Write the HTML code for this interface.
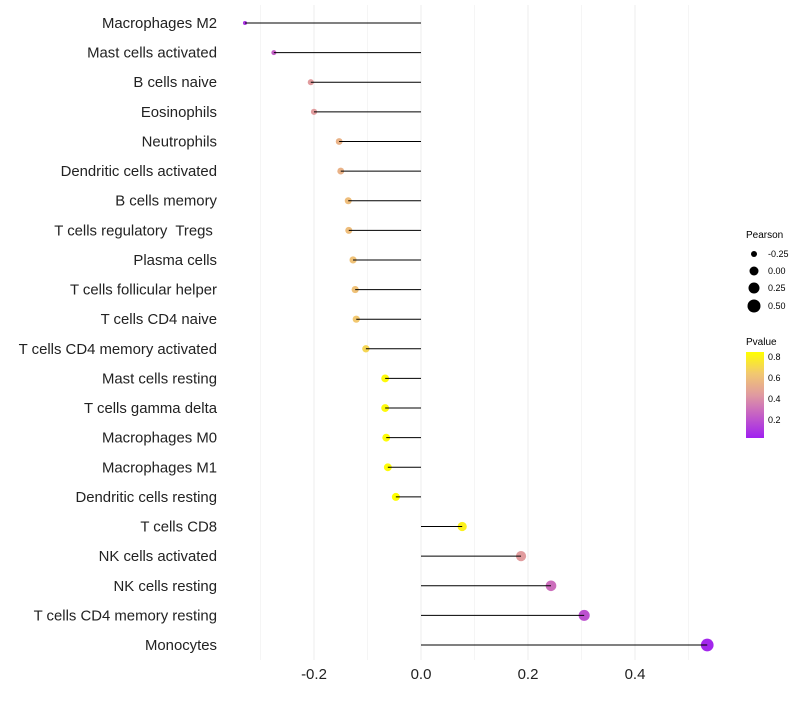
<!DOCTYPE html>
<html><head><meta charset="utf-8"><style>
body{margin:0;background:#fff;font-family:"Liberation Sans",sans-serif}
text{white-space:pre}
</style></head><body>
<svg id="chart" width="800" height="700" xmlns="http://www.w3.org/2000/svg" font-family="Liberation Sans, sans-serif">
<defs><linearGradient id="pg" x1="0" y1="1" x2="0" y2="0">
<stop offset="0" stop-color="#a020f0"/><stop offset="0.3" stop-color="#c968c0"/><stop offset="0.5" stop-color="#e09aa0"/><stop offset="0.75" stop-color="#f2c870"/><stop offset="1" stop-color="#ffff00"/></linearGradient></defs>
<g id="grid"></g><g id="dots"></g><g id="marks"></g><g id="labels"></g>
<g font-size="9">
<text x="746" y="238" font-size="10">Pearson</text>
<circle cx="754" cy="254" r="3"/><text x="768" y="257">-0.25</text>
<circle cx="754" cy="271" r="4.5"/><text x="768" y="274">0.00</text>
<circle cx="754" cy="288" r="5.5"/><text x="768" y="291">0.25</text>
<circle cx="754" cy="306" r="6.5"/><text x="768" y="309">0.50</text>
<text x="746" y="345" font-size="10">Pvalue</text>
<rect x="746" y="352" width="18" height="86" fill="url(#pg)"/>
<text x="768" y="360">0.8</text><text x="768" y="381">0.6</text><text x="768" y="402">0.4</text><text x="768" y="423">0.2</text>
</g>
</svg>
<script>
const categories=["Macrophages M2","Mast cells activated","B cells naive","Eosinophils","Neutrophils","Dendritic cells activated","B cells memory","T cells regulatory  Tregs ","Plasma cells","T cells follicular helper","T cells CD4 naive","T cells CD4 memory activated","Mast cells resting","T cells gamma delta","Macrophages M0","Macrophages M1","Dendritic cells resting","T cells CD8","NK cells activated","NK cells resting","T cells CD4 memory resting","Monocytes"];
const pearson=[-0.329,-0.275,-0.206,-0.200,-0.153,-0.150,-0.136,-0.135,-0.127,-0.123,-0.121,-0.103,-0.067,-0.067,-0.065,-0.062,-0.047,0.077,0.187,0.243,0.305,0.535];
const pvalue=[0.1,0.25,0.45,0.45,0.55,0.55,0.6,0.6,0.62,0.62,0.65,0.7,0.83,0.83,0.84,0.84,0.87,0.8,0.45,0.3,0.2,0.05];
const xticks=[-0.2,0,0.2,0.4];
const xminor=[-0.3,-0.1,0.1,0.3,0.5];
const NS="http://www.w3.org/2000/svg";
const x=v=>421+v*535;
const y=i=>23+i*(622/21);
function mk(t,a,p){const e=document.createElementNS(NS,t);for(const k in a)e.setAttribute(k,a[k]);p.appendChild(e);return e;}
const stops=[[0.03,[160,32,240]],[0.28,[201,104,192]],[0.44,[224,154,160]],[0.65,[242,200,112]],[0.85,[255,255,0]]];
function col(p){if(p<=stops[0][0])return "rgb("+stops[0][1]+")";for(let i=1;i<stops.length;i++){if(p<=stops[i][0]){const t=(p-stops[i-1][0])/(stops[i][0]-stops[i-1][0]);const c=stops[i-1][1].map((a,j)=>Math.round(a+(stops[i][1][j]-a)*t));return "rgb("+c+")";}}return "rgb(255,255,0)";}
const g=document.getElementById('grid'),m=document.getElementById('marks'),D=document.getElementById('dots'),L=document.getElementById('labels');
xminor.forEach(v=>{const l=mk('line',{x1:x(v),x2:x(v),y1:5,y2:660,stroke:'#f5f5f5','stroke-width':1},g);

});
xticks.forEach(v=>{const l=mk('line',{x1:x(v),x2:x(v),y1:5,y2:660,stroke:'#eeeeee','stroke-width':1},g);


const t=mk('text',{x:x(v),y:679,'text-anchor':'middle','font-size':15,fill:'#222'},L);t.textContent=(v===0?"0.0":String(v));

});
categories.forEach((c,i)=>{
const r=Math.sqrt(Math.max(3,18+42*pearson[i]));
const d=mk('circle',{cx:x(pearson[i]),cy:y(i),r:r,fill:col(pvalue[i])},D);


const l=mk('line',{x1:x(0),x2:x(pearson[i]),y1:y(i),y2:y(i),stroke:'#000','stroke-width':1},m);


const t=mk('text',{x:217,y:y(i)+5,'text-anchor':'end','font-size':14.9,fill:'#222'},L);t.textContent=c;


});
</script>
</body></html>
